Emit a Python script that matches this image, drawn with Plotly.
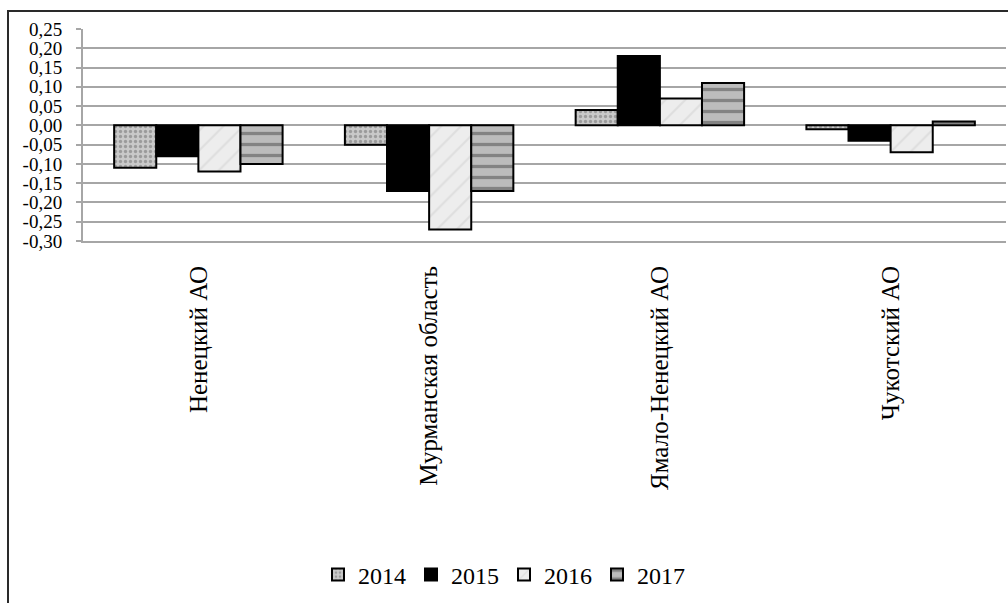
import plotly.graph_objects as go

# Regions (categories) and yearly values
regions = ["Ненецкий АО", "Мурманская область", "Ямало-Ненецкий АО", "Чукотский АО"]
years = ["2014", "2015", "2016", "2017"]
v2014 = [-0.11, -0.05, 0.04, -0.01]
v2015 = [-0.08, -0.17, 0.18, -0.04]
v2016 = [-0.12, -0.27, 0.07, -0.07]
v2017 = [-0.10, -0.17, 0.11, 0.01]

y_ticks = [0.25, 0.20, 0.15, 0.10, 0.05, 0.00, -0.05, -0.10, -0.15, -0.20, -0.25, -0.30]
y_tick_text = [f"{t:.2f}".replace(".", ",") for t in y_ticks]

W, H = 1008, 603
ML, MR, MT, MB = 83, 2, 29, 362
PW, PH = W - ML - MR, H - MT - MB

FONT = "Liberation Serif"

styles = [
    dict(color="#bdbdbd", pattern=dict(shape=".", fgcolor="#6e6e6e", bgcolor="#c9c9c9", size=5, solidity=0.35)),
    dict(color="#000000"),
    dict(color="#ececec", pattern=dict(shape="/", fgcolor="#cfcfcf", bgcolor="#ededed", size=14, solidity=0.15)),
    dict(color="#9c9c9c", pattern=dict(shape="-", fgcolor="#4a4a4a", bgcolor="#bcbcbc", size=11, solidity=0.3)),
]

fig = go.Figure()
for name, vals, st in zip(years, [v2014, v2015, v2016, v2017], styles):
    marker = dict(line=dict(color="#000000", width=2), **st)
    fig.add_trace(go.Bar(x=regions, y=vals, name=name, marker=marker))

fig.update_layout(
    width=W, height=H,
    margin=dict(l=ML, r=MR, t=MT, b=MB, pad=0),
    paper_bgcolor="white", plot_bgcolor="white",
    barmode="group", bargap=0.27, bargroupgap=0,
    font=dict(family=FONT, color="black"),
    showlegend=True,
    legend=dict(
        orientation="h", xref="container", yref="container",
        x=0.5, xanchor="center", y=1 - 575 / H, yanchor="middle",
        font=dict(size=24, family=FONT), itemwidth=30,
        bgcolor="rgba(0,0,0,0)", traceorder="normal",
    ),
    xaxis=dict(
        tickangle=-90, tickfont=dict(size=25, family=FONT),
        showline=True, linecolor="#a6a6a6", linewidth=2,
        ticks="", ticklabelstandoff=13, showgrid=False,
    ),
    yaxis=dict(
        range=[-0.30, 0.25], tickvals=y_ticks, ticktext=y_tick_text,
        tickfont=dict(size=19, family=FONT),
        showline=True, linecolor="#a6a6a6", linewidth=2,
        ticks="outside", ticklen=5, tickcolor="#a6a6a6", tickwidth=2,
        ticklabelstandoff=10,
        showgrid=True, gridcolor="#a6a6a6", gridwidth=2,
        zeroline=True, zerolinecolor="#a6a6a6", zerolinewidth=2,
    ),
)

# Outer chart frame
fig.add_shape(
    type="rect", xref="paper", yref="paper",
    x0=(8 - ML) / PW, x1=(W + 10 - ML) / PW,
    y0=-(MB + 20) / PH, y1=(H - MB - 11) / PH,
    line=dict(color="#2a2a2a", width=2), fillcolor="rgba(0,0,0,0)", layer="below",
)

fig.write_html("out.html")
